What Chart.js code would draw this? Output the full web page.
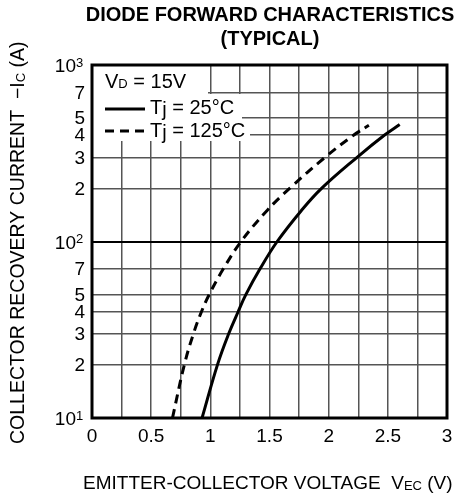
<!DOCTYPE html>
<html>
<head>
<meta charset="utf-8">
<script src="https://cdn.jsdelivr.net/npm/chart.js@4/dist/chart.umd.min.js"></script>
<style>
  html, body { margin: 0; padding: 0; background: #fff; }
  #wrap { width: 470px; height: 498px; position: relative; }
</style>
</head>
<body>
<div id="wrap"><canvas id="chart"></canvas></div>
<script>
// curve values
const vec25 = [0.93, 1.06, 1.155, 1.235, 1.30, 1.42, 1.565, 1.77, 1.94, 2.24, 2.47, 2.60];
const ic25 = [10, 20, 30, 40, 50, 70, 100, 150, 200, 300, 400, 460];
const vec125 = [0.68, 0.78, 0.857, 0.925, 0.99, 1.11, 1.26, 1.48, 1.67, 1.97, 2.21, 2.34];
const ic125 = [10, 20, 30, 40, 50, 70, 100, 150, 200, 300, 400, 455];

// axis ticks
const yTicks = [10, 20, 30, 40, 50, 70, 100, 200, 300, 400, 500, 700, 1000];
const yLabels = ['10|1', '2', '3', '4', '5', '7', '10|2', '2', '3', '4', '5', '7', '10|3'];
const xLabels = [0, 0.5, 1, 1.5, 2, 2.5, 3];

const FONT = "'Liberation Sans', Arial, sans-serif";

const toPoints = (xs, ys) => xs.map((x, i) => ({ x: x, y: ys[i] }));

// draws texts, legend box and frame around the plot
const decorations = {
  id: 'decorations',
  afterDatasetsDraw(chart) {
    const ctx = chart.ctx;
    const area = chart.chartArea;
    const xs = chart.scales.x;
    const ys = chart.scales.y;
    ctx.save();
    ctx.fillStyle = '#000';

    // title
    ctx.font = 'bold 20px ' + FONT;
    ctx.textAlign = 'center';
    ctx.textBaseline = 'middle';
    ctx.fillText('DIODE FORWARD CHARACTERISTICS', 270, 15);
    ctx.fillText('(TYPICAL)', 270, 39);

    // x tick labels
    ctx.font = '19px ' + FONT;
    xLabels.forEach(v => {
      ctx.fillText(String(v), xs.getPixelForValue(v), 437);
    });

    // y tick labels
    ctx.textAlign = 'right';
    yTicks.forEach((v, i) => {
      const y = ys.getPixelForValue(v);
      const lab = yLabels[i];
      if (lab.indexOf('|') >= 0) {
        const parts = lab.split('|');
        ctx.font = '19px ' + FONT;
        ctx.textAlign = 'right';
        ctx.fillText(parts[0], 76, y + 2);
        ctx.font = '13px ' + FONT;
        ctx.textAlign = 'left';
        ctx.fillText(parts[1], 76, y - 2);
        ctx.textAlign = 'right';
      } else {
        ctx.font = '19px ' + FONT;
        ctx.fillText(lab, 85, y + 1);
      }
    });

    // x axis title
    ctx.textAlign = 'left';
    let tx = 83;
    const ty = 484;
    const seg = (t, f, dy) => {
      ctx.font = f;
      ctx.fillText(t, tx, ty + (dy || 0));
      tx += ctx.measureText(t).width;
    };
    seg('EMITTER-COLLECTOR VOLTAGE  V', '19px ' + FONT);
    seg('EC', '13px ' + FONT, 2);
    seg(' (V)', '19px ' + FONT);

    // y axis title (rotated)
    ctx.save();
    ctx.translate(19, 444);
    ctx.rotate(-Math.PI / 2);
    tx = 0;
    const segR = (t, f, dy) => {
      ctx.font = f;
      ctx.fillText(t, tx, dy || 0);
      tx += ctx.measureText(t).width;
    };
    segR('COLLECTOR RECOVERY CURRENT  \u2212I', '19.5px ' + FONT);
    segR('C', '13px ' + FONT, 2);
    segR(' (A)', '19.5px ' + FONT);
    ctx.restore();

    // legend box
    const lx = area.left;
    ctx.fillStyle = '#fff';
    ctx.fillRect(lx, area.top, 208 - lx, 94 - area.top);
    ctx.fillRect(lx, 94, 242 - lx, 25);
    ctx.fillRect(lx, 119, 250 - lx, 22);
    ctx.fillStyle = '#000';
    ctx.textAlign = 'left';
    const segL = (t, f, y, dy) => {
      ctx.font = f;
      ctx.fillText(t, tx, y + (dy || 0));
      tx += ctx.measureText(t).width;
    };
    tx = 105;
    segL('V', '20px ' + FONT, 82);
    segL('D', '13px ' + FONT, 82, 2);
    segL(' = 15V', '20px ' + FONT, 82);

    ctx.lineWidth = 3;
    ctx.strokeStyle = '#000';
    ctx.beginPath();
    ctx.moveTo(105, 109);
    ctx.lineTo(145, 109);
    ctx.stroke();
    ctx.setLineDash([9, 6]);
    ctx.beginPath();
    ctx.moveTo(105, 131);
    ctx.lineTo(145, 131);
    ctx.stroke();
    ctx.setLineDash([]);

    tx = 150;
    segL('T', '20px ' + FONT, 108);
    segL('j', '20px ' + FONT, 108, 2);
    segL(' = 25\u00b0C', '20px ' + FONT, 108);
    tx = 150;
    segL('T', '20px ' + FONT, 131);
    segL('j', '20px ' + FONT, 131, 2);
    segL(' = 125\u00b0C', '20px ' + FONT, 131);

    // frame
    ctx.lineWidth = 3;
    ctx.strokeRect(area.left, area.top, area.right - area.left, area.bottom - area.top);
    ctx.restore();
  }
};

const chart = new Chart(document.getElementById('chart'), {
  type: 'line',
  data: {
    datasets: [
      {
        label: 'Tj = 25°C',
        data: toPoints(vec25, ic25),
        borderColor: '#000',
        borderWidth: 3,
        pointRadius: 0,
        tension: 0.4,
        fill: false
      },
      {
        label: 'Tj = 125°C',
        data: toPoints(vec125, ic125),
        borderColor: '#000',
        borderWidth: 3,
        borderDash: [9, 6],
        pointRadius: 0,
        tension: 0.4,
        fill: false
      }
    ]
  },
  options: {
    responsive: true,
    maintainAspectRatio: false,
    animation: false,
    layout: { padding: { left: 92, right: 23, top: 65, bottom: 80 } },
    plugins: {
      legend: { display: false },
      title: { display: false },
      tooltip: { enabled: false }
    },
    scales: {
      x: {
        type: 'linear',
        min: 0,
        max: 3,
        ticks: { display: false, stepSize: 0.25 },
        grid: { color: '#555', lineWidth: 1.5, drawTicks: false },
        border: { display: false }
      },
      y: {
        type: 'logarithmic',
        min: 10,
        max: 1000,
        afterBuildTicks: (scale) => {
          scale.ticks = yTicks.map(v => ({ value: v }));
        },
        ticks: { display: false },
        grid: {
          color: (c) => (c.tick && c.tick.value === 100 ? '#000' : '#555'),
          lineWidth: (c) => (c.tick && c.tick.value === 100 ? 2 : 1.5),
          drawTicks: false
        },
        border: { display: false }
      }
    }
  },
  plugins: [decorations]
});
</script>
</body>
</html>
